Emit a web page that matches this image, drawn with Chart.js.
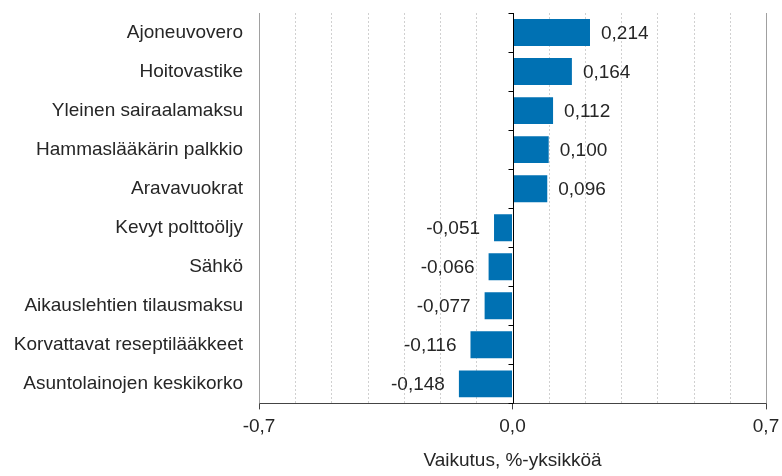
<!DOCTYPE html>
<html lang="fi">
<head>
<meta charset="utf-8">
<title>Vaikutus, %-yksikköä</title>
<script src="https://cdn.jsdelivr.net/npm/chart.js@4"></script>
<style>
    html, body { margin: 0; padding: 0; background: #fff; }
    #wrap { position: relative; width: 782px; height: 476px; }
</style>
</head>
<body>
<div id="wrap"><canvas id="impact-chart"></canvas></div>
<script>
// --- Data ---
const categories = [
    'Ajoneuvovero',
    'Hoitovastike',
    'Yleinen sairaalamaksu',
    'Hammaslääkärin palkkio',
    'Aravavuokrat',
    'Kevyt polttoöljy',
    'Sähkö',
    'Aikauslehtien tilausmaksu',
    'Korvattavat reseptilääkkeet',
    'Asuntolainojen keskikorko'
];
const impactValues = [0.214, 0.164, 0.112, 0.100, 0.096, -0.051, -0.066, -0.077, -0.116, -0.148];
const axisMin = -0.7;
const axisMax = 0.7;
const labelledTicks = [-0.7, 0, 0.7];
const axisTitle = 'Vaikutus, %-yksikköä';

const FONT = '"Liberation Sans", Arial, sans-serif';
const FONT_SIZE = 19;
const TEXT = '#262626';
const isLabelled = v => labelledTicks.some(t => Math.abs(t - v) < 1e-6);
const fmtTick = v => Math.abs(v) < 1e-6 ? '0,0' : v.toFixed(1).replace('.', ',');

// --- Grid, zero line and value labels ---
const decorations = {
    id: 'decorations',
    beforeDatasetsDraw(chart) {
        const { ctx, chartArea: a, scales: { x } } = chart;
        ctx.save();
        ctx.lineWidth = 1;
        ctx.strokeStyle = '#d0d0d0';
        ctx.setLineDash([2, 2]);
        for (let i = -6; i <= 6; i++) {
            if (i === 0) continue;
            const px = Math.round(x.getPixelForValue(i / 10)) + 0.5;
            ctx.beginPath(); ctx.moveTo(px, a.top); ctx.lineTo(px, a.bottom); ctx.stroke();
        }
        ctx.setLineDash([]);
        ctx.strokeStyle = '#a0a0a0';
        [axisMin, axisMax].forEach(v => {
            const px = Math.round(x.getPixelForValue(v)) + 0.5;
            ctx.beginPath(); ctx.moveTo(px, a.top); ctx.lineTo(px, a.bottom); ctx.stroke();
        });
        ctx.restore();
    },
    afterDatasetsDraw(chart) {
        const { ctx, chartArea: a, scales: { x } } = chart;
        ctx.save();
        // zero line with category ticks
        const zx = Math.round(x.getPixelForValue(0)) + 0.5;
        ctx.strokeStyle = '#000';
        ctx.lineWidth = 1;
        ctx.beginPath(); ctx.moveTo(zx, a.top); ctx.lineTo(zx, a.bottom); ctx.stroke();
        const band = (a.bottom - a.top) / categories.length;
        for (let i = 0; i <= categories.length; i++) {
            const py = Math.round(a.top + band * i) + 0.5;
            ctx.beginPath(); ctx.moveTo(zx - 5, py); ctx.lineTo(zx, py); ctx.stroke();
        }
        // value labels
        ctx.font = FONT_SIZE + 'px ' + FONT;
        ctx.fillStyle = TEXT;
        ctx.textBaseline = 'middle';
        chart.getDatasetMeta(0).data.forEach((bar, i) => {
            const v = impactValues[i];
            const txt = v.toFixed(3).replace('.', ',');
            if (v >= 0) {
                ctx.textAlign = 'left';
                ctx.fillText(txt, bar.x + 11, bar.y + 1);
            } else {
                ctx.textAlign = 'right';
                ctx.fillText(txt, bar.x - 14, bar.y + 1);
            }
        });
        ctx.restore();
    }
};

new Chart(document.getElementById('impact-chart'), {
    type: 'bar',
    data: {
        labels: categories,
        datasets: [{
            data: impactValues,
            backgroundColor: '#0071b3',
            borderWidth: 0,
            categoryPercentage: 1,
            barPercentage: 0.69
        }]
    },
    options: {
        indexAxis: 'y',
        responsive: true,
        maintainAspectRatio: false,
        animation: false,
        layout: { padding: { top: 13, right: 16, left: 0, bottom: 0 } },
        plugins: { legend: { display: false }, tooltip: { enabled: false } },
        scales: {
            x: {
                min: axisMin,
                max: axisMax,
                grid: {
                    drawOnChartArea: false,
                    drawTicks: true,
                    tickLength: 6,
                    tickColor: c => isLabelled(c.tick.value) ? '#444' : 'rgba(0,0,0,0)'
                },
                border: { display: true, color: '#444', width: 1 },
                ticks: {
                    stepSize: 0.1,
                    autoSkip: false,
                    maxRotation: 0,
                    padding: 6,
                    color: TEXT,
                    font: { family: FONT, size: FONT_SIZE },
                    callback: v => isLabelled(v) ? fmtTick(v) : ''
                },
                title: {
                    display: true,
                    text: axisTitle,
                    color: TEXT,
                    font: { family: FONT, size: FONT_SIZE },
                    padding: { top: 5, bottom: 4 }
                },
                // let the layout padding alone decide the right edge
                afterFit: scale => { scale.paddingRight = 0; scale.paddingLeft = 0; }
            },
            y: {
                grid: {
                    drawOnChartArea: false,
                    drawTicks: true,
                    tickLength: 16,
                    tickColor: 'rgba(0,0,0,0)'
                },
                border: { display: false },
                ticks: {
                    padding: 0,
                    color: TEXT,
                    font: { family: FONT, size: FONT_SIZE }
                },
                afterFit: scale => { scale.width = 259; }
            }
        }
    },
    plugins: [decorations]
});
</script>
</body>
</html>
